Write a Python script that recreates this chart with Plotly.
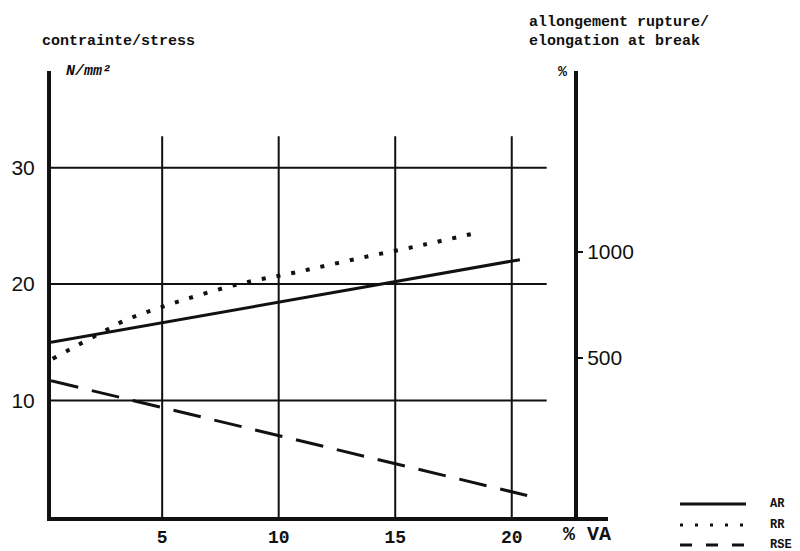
import plotly.graph_objects as go

# % VA content (x) and measured properties
va_ticks = [5, 10, 15, 20]
stress_ticks = [10, 20, 30]
elong_ticks = [500, 1000]

# AR : tensile strength, N/mm2
ar_x = [0.23, 20.35]
ar_y = [15.0, 22.1]

# RR : elongation at break, %
rr_x = [0.3, 1.1, 2.4, 3.5, 4.7, 6.0, 8.3, 10.8, 13.5, 16.2, 18.5]
rr_y = [495, 543, 619, 681, 729, 776, 848, 905, 971, 1033, 1090]

# RSE : N/mm2
rse_x = [0.23, 20.66]
rse_y = [11.7, 1.85]

X_RANGE = [0.23, 24.13]
Y_RANGE = [0, 38.3]
Y2_RANGE = [-252, 1854]

MONO = "Liberation Mono"
SANS = "Liberation Sans"
INK = "#111111"

fig = go.Figure()

fig.add_trace(go.Scatter(x=ar_x, y=ar_y, mode="lines", name="AR",
                         line=dict(color=INK, width=3)))
fig.add_trace(go.Scatter(x=rr_x, y=rr_y, mode="lines", name="RR", yaxis="y2",
                         line=dict(color=INK, width=4, dash="4px,11px",
                                   shape="spline")))
fig.add_trace(go.Scatter(x=rse_x, y=rse_y, mode="lines", name="RSE",
                         line=dict(color=INK, width=3, dash="28px,14px")))

# partial grid lines
shapes = []
for v in stress_ticks:
    shapes.append(dict(type="line", xref="x", yref="y", x0=X_RANGE[0], x1=21.5,
                       y0=v, y1=v, line=dict(color=INK, width=2)))
for v in va_ticks:
    shapes.append(dict(type="line", xref="x", yref="y", x0=v, x1=v,
                       y0=0, y1=32.7, line=dict(color=INK, width=2)))

# legend key (drawn in paper space, below right of the axes)
W, H, L, B = 557.0, 446.0, 51.0, 517.0


def px(xp):
    return (xp - L) / W


def py(yp):
    return (B - yp) / H


key = [("AR", None, 3, 504), ("RR", "3px,12px", 3, 525), ("RSE", "12px,14px", 3, 545)]
annotations = []
for name, dash, w, yy in key:
    ln = dict(color=INK, width=w)
    if dash:
        ln["dash"] = dash
    shapes.append(dict(type="line", xref="paper", yref="paper",
                       x0=px(680), x1=px(746), y0=py(yy), y1=py(yy), line=ln))
    annotations.append(dict(xref="paper", yref="paper", x=px(768), y=py(yy),
                            text=name, showarrow=False, xanchor="left",
                            yanchor="middle",
                            font=dict(family=MONO, size=12, color=INK, weight="bold")))

annotations += [
    dict(xref="paper", yref="paper", x=px(40), y=py(42), text="contrainte/stress",
         showarrow=False, xanchor="left", yanchor="middle",
         font=dict(family=MONO, size=15, color=INK, weight="bold")),
    dict(xref="paper", yref="paper", x=px(64), y=py(71), text="N/mm²",
         showarrow=False, xanchor="left", yanchor="middle",
         font=dict(family=MONO, size=15, color=INK, style="italic", weight="bold")),
    dict(xref="paper", yref="paper", x=px(527), y=py(23), text="allongement rupture/",
         showarrow=False, xanchor="left", yanchor="middle",
         font=dict(family=MONO, size=15, color=INK, weight="bold")),
    dict(xref="paper", yref="paper", x=px(527), y=py(42), text="elongation at break",
         showarrow=False, xanchor="left", yanchor="middle",
         font=dict(family=MONO, size=15, color=INK, weight="bold")),
    dict(xref="paper", yref="paper", x=px(563), y=py(72), text="%",
         showarrow=False, xanchor="center", yanchor="middle",
         font=dict(family=MONO, size=15, color=INK, weight="bold")),
    dict(xref="paper", yref="paper", x=px(587), y=py(534), text="% VA",
         showarrow=False, xanchor="center", yanchor="middle",
         font=dict(family=MONO, size=20, color=INK, weight="bold")),
]

fig.update_layout(
    width=800, height=551, autosize=False,
    margin=dict(l=51, r=192, t=71, b=34, pad=0),
    paper_bgcolor="white", plot_bgcolor="white",
    showlegend=False,
    shapes=shapes, annotations=annotations,
    xaxis=dict(range=X_RANGE, tickvals=va_ticks, showgrid=False, zeroline=False,
               showline=True, linecolor=INK, linewidth=4, ticks="",
               ticklabelstandoff=0, automargin=False,
               tickfont=dict(family=MONO, size=18, color=INK, weight="bold")),
    yaxis=dict(range=Y_RANGE, tickvals=stress_ticks, showgrid=False, zeroline=False,
               showline=True, linecolor=INK, linewidth=4, ticks="",
               ticklabelstandoff=8, automargin=False,
               tickfont=dict(family=SANS, size=21, color=INK)),
    yaxis2=dict(range=Y2_RANGE, tickvals=elong_ticks, overlaying="y", side="right",
                anchor="free", position=(576 - L) / W, showgrid=False,
                zeroline=False, showline=True, linecolor=INK, linewidth=4,
                ticks="outside", ticklen=5, tickwidth=2, tickcolor=INK,
                automargin=False,
                tickfont=dict(family=SANS, size=21, color=INK)),
)

fig.write_html("out.html")
